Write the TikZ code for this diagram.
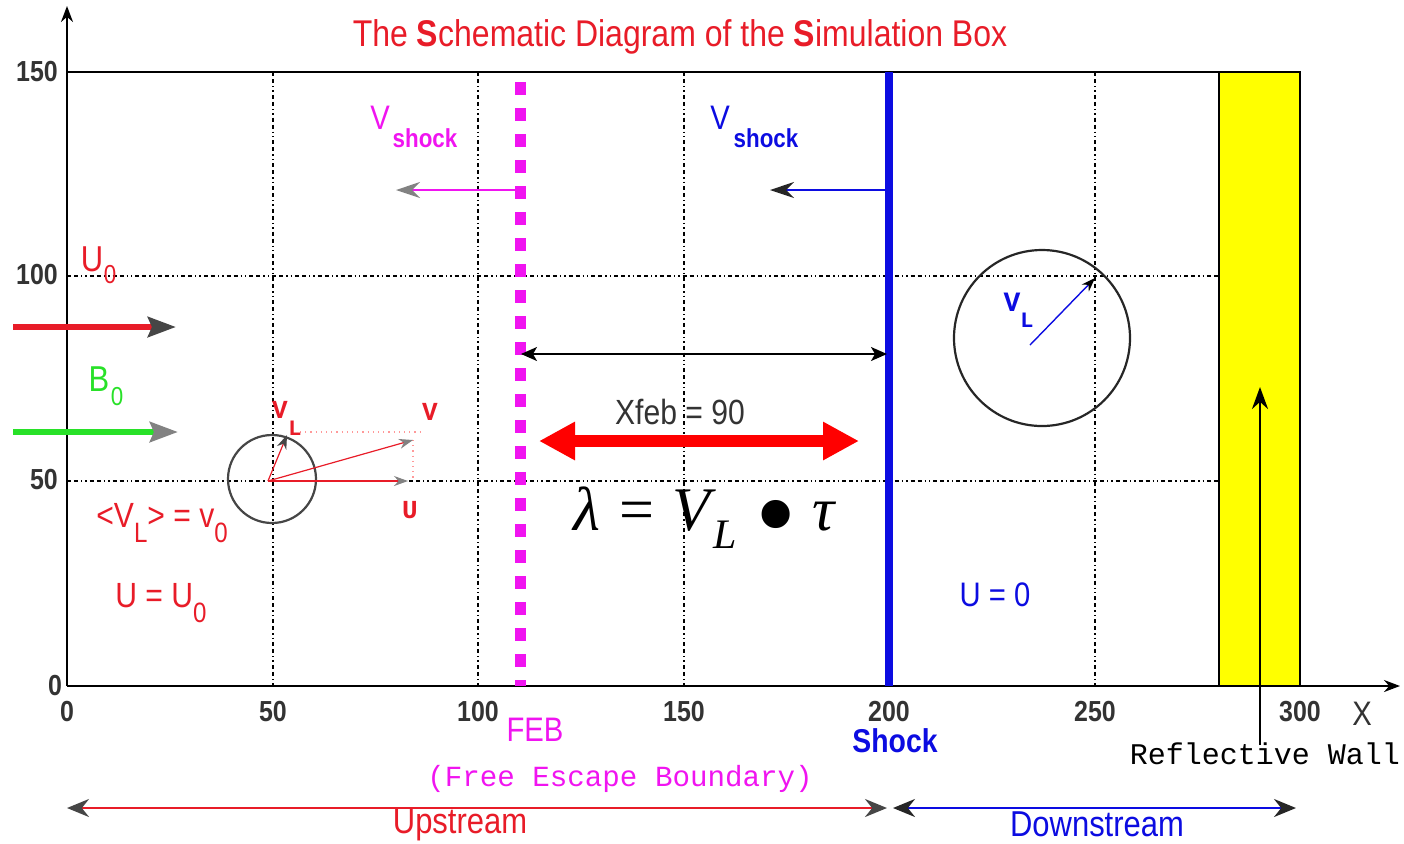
\documentclass[tikz,border=0pt]{standalone}
\usepackage{fontspec}
\setmainfont[FakeStretch=0.86]{Liberation Sans}
\setmonofont{Liberation Mono}
\newfontfamily\tmsfont{Liberation Serif}
\usetikzlibrary{arrows.meta}
\definecolor{tred}{RGB}{232,28,40}
\definecolor{mag}{RGB}{240,20,240}
\definecolor{sblue}{RGB}{12,12,225}
\definecolor{grn}{RGB}{40,225,40}
\definecolor{yel}{RGB}{255,255,0}
\definecolor{dgray}{RGB}{70,70,70}
\definecolor{mgray}{RGB}{130,130,130}
\newcommand\fs[1]{\fontsize{#1}{#1}\selectfont}
\newcommand\lsub[1]{\raisebox{-0.45em}{\scalebox{0.8}{#1}}}
\tikzset{
  axisline/.style={line width=1.1pt, black, -{Stealth[length=8pt,width=6pt]}},
  gridline/.style={line width=0.6pt, black, dash pattern=on 2pt off 1.5pt on 2pt off 1.5pt on 0.7pt off 1.5pt on 0.7pt off 1.5pt},
  ticklab/.style={font=\bfseries\fs{14.5}, text=black!80, inner sep=0pt},
  lab/.style={font=\fs{15}, inner sep=0pt},
  monolab/.style={font=\ttfamily\bfseries\fs{13}, inner sep=0pt},
  thinarrow/.style={line width=0.6pt},
}
\begin{document}
\begin{tikzpicture}[x=0.5pt,y=-0.5pt]
\path[use as bounding box] (0,0) rectangle (1404,843);

% title
\node[font=\fs{18.6}, text=tred, inner sep=0pt] (title) at (680,37) {The \textbf{S}chematic Diagram of the \textbf{S}imulation Box};

% coordinates of the frame
\coordinate (O) at (67,686);
\coordinate (ytop) at (67,6);
\coordinate (xend) at (1400,686);
\coordinate (tl) at (67,72);
\coordinate (tr) at (1300,72);

% grid
\foreach \gx in {273,478,684,1095} {\draw[gridline] (\gx,72) -- (\gx,686);}
\foreach \gy in {276,481} {\draw[gridline] (67,\gy) -- (1219,\gy);}

% reflective wall
\draw[fill=yel, draw=black, line width=0.8pt] (1219,72) rectangle (1300,686);
\coordinate (w1) at (1260,745);
\coordinate (w2) at (1260,387);
\draw[line width=1.3pt, -{Stealth[length=11pt,width=8pt]}] (w1) -- (w2);

% frame
\draw[line width=1.1pt] (tl) -- (tr);
\draw[axisline] (O) -- (ytop);
\draw[axisline] (O) -- (xend);

% FEB and shock lines
\coordinate (feb1) at (520,82);
\coordinate (feb2) at (520,686);
\draw[mag, line width=5.5pt, dash pattern=on 6.5pt off 6.5pt] (feb1) -- (feb2);
\coordinate (sh1) at (889,72);
\coordinate (sh2) at (889,686);
\draw[sblue, line width=4pt] (sh1) -- (sh2);

% tick labels
\node[ticklab] (y150) at (37,72) {150};
\node[ticklab] (y100) at (37,275) {100};
\node[ticklab] (y50) at (44,480) {50};
\node[ticklab] (y0) at (55,686) {0};
\node[ticklab] (x0) at (67,712) {0};
\node[ticklab] (x50) at (273,712) {50};
\node[ticklab] (x100) at (478,712) {100};
\node[ticklab] (x150) at (684,712) {150};
\node[ticklab] (x200) at (889,712) {200};
\node[ticklab] (x250) at (1095,712) {250};
\node[ticklab] (x300) at (1300,712) {300};
\node[ticklab, font=\fs{17}] (xl) at (1362,714) {X};

% V shock arrows
\coordinate (vs1a) at (517,190);
\coordinate (vs1b) at (396,190);
\draw[mag, line width=1pt, -{Stealth[length=12pt,width=8pt,color=mgray]}] (vs1a) -- (vs1b);
\node[lab, text=mag, font=\fs{17}] (vs1V) at (380,118) {V};
\node[lab, text=mag, font=\bfseries\fs{13}] (vs1s) at (425,138) {shock};
\coordinate (vs2a) at (886,190);
\coordinate (vs2b) at (770,190);
\draw[sblue, line width=1pt, -{Stealth[length=12pt,width=8pt,color=black!85]}] (vs2a) -- (vs2b);
\node[lab, text=sblue, font=\fs{17}] (vs2V) at (720,118) {V};
\node[lab, text=sblue, font=\bfseries\fs{13}] (vs2s) at (766,138) {shock};

% Xfeb distance
\coordinate (d1) at (521,354);
\coordinate (d2) at (887,354);
\draw[line width=0.8pt, {Stealth[length=8pt,width=7pt,inset=2pt]}-{Stealth[length=8pt,width=7pt,inset=2pt]}] (d1) -- (d2);
\node[lab, text=black!80, font=\fs{17.5}] (xfeb) at (680,412) {Xfeb = 90};
\coordinate (r1) at (539,441);
\coordinate (r2) at (859,441);
\draw[red, line width=6pt, {Triangle[length=18pt,width=18pt]}-{Triangle[length=18pt,width=18pt]}] (r1) -- (r2);
\node[inner sep=0pt, font=\tmsfont\fs{31}, anchor=base] (lam) at (705,530) {\textit{λ}\hspace{0.3em}=\hspace{0.3em}\textit{V}\hspace{-0.05em}\raisebox{-0.3em}{\fs{21}\textit{L}}\hspace{0.3em}\raisebox{-0.38em}{\scalebox{1.9}{•}}\hspace{0.25em}\textit{τ}};

% downstream circle
\coordinate (c2) at (1042,338);
\draw[line width=1.1pt, black!85] (c2) circle[radius=44pt];
\coordinate (b1) at (1030,345);
\coordinate (b2) at (1095,278);
\draw[sblue, line width=0.7pt, -{Stealth[length=7pt,width=5pt,color=black]}] (b1) -- (b2);
\node[monolab, text=sblue, font=\ttfamily\bfseries\fs{14}] (vlb) at (1012,302) {V};
\node[monolab, text=sblue, font=\ttfamily\bfseries\fs{11}] (vlbs) at (1027,320) {L};
\node[lab, text=sblue, font=\fs{17}] (u0r) at (995,595) {U = 0};

% upstream inflow
\node[lab, text=tred, font=\fs{18}] (U0) at (92,259) {U};
\node[lab, text=tred, font=\fs{13}] (U0s) at (110,275) {0};
\coordinate (ua) at (13,327);
\coordinate (ub) at (176,327);
\draw[tred, line width=3pt, -{Stealth[length=14pt,width=10pt,inset=2pt,color=dgray]}] (ua) -- (ub);
\node[lab, text=grn, font=\fs{18}] (B0) at (99,379) {B};
\node[lab, text=grn, font=\fs{13}] (B0s) at (117,397) {0};
\coordinate (ga) at (13,432);
\coordinate (gb) at (178,432);
\draw[grn, line width=3pt, -{Stealth[length=14pt,width=10pt,inset=2pt,color=mgray]}] (ga) -- (gb);

% upstream particle
\coordinate (c1) at (272,479);
\draw[line width=1.1pt, dgray] (c1) circle[radius=22pt];
\coordinate (p) at (268,481);
\coordinate (pu) at (408,481);
\coordinate (pv) at (413,440);
\coordinate (pl) at (287,435);
\coordinate (dA) at (300,432);
\coordinate (dB) at (423,432);
\coordinate (dC) at (413,440);
\coordinate (dD) at (413,478);
\draw[red!40, line width=0.6pt, dotted] (dA) -- (dB);
\draw[red!40, line width=0.6pt, dotted] (dC) -- (dD);
\draw[tred, thinarrow, -{Stealth[length=7pt,width=5pt,color=mgray]}] (p) -- (pu);
\draw[tred, thinarrow, -{Stealth[length=7pt,width=5pt,color=mgray]}] (p) -- (pv);
\draw[tred, thinarrow, -{Stealth[length=7pt,width=5pt,color=dgray]}] (p) -- (pl);
\node[monolab, text=tred] (lv1) at (280,410) {V};
\node[monolab, text=tred, font=\ttfamily\bfseries\fs{11}] (lv1s) at (295,428) {L};
\node[monolab, text=tred] (lv2) at (430,412) {V};
\node[monolab, text=tred] (lu) at (410,510) {U};
\node[lab, text=tred, anchor=west, font=\fs{17.5}] (avg) at (96,523) {<V\lsub{L}> = v\lsub{0}};
\node[lab, text=tred, anchor=west, font=\fs{17.5}] (ueq) at (115,603) {U = U\lsub{0}};

% bottom labels
\node[lab, text=mag, font=\fs{17}] (feb) at (535,730) {FEB};
\node[lab, text=sblue, font=\bfseries\fs{16.5}] (shock) at (895,741) {Shock};
\node[lab, text=mag, font=\ttfamily\fs{14.6}] (feb2t) at (620,779) {(Free Escape Boundary)};
\node[lab, text=black, font=\ttfamily\fs{15}] (rw) at (1265,754) {Reflective Wall};

% upstream / downstream
\coordinate (us1) at (67,808);
\coordinate (us2) at (887,808);
\draw[tred, line width=1.2pt, {Stealth[length=11pt,width=9pt,color=dgray]}-{Stealth[length=11pt,width=9pt,color=dgray]}] (us1) -- (us2);
\node[lab, text=tred, font=\fs{18}] (ups) at (460,825) {Upstream};
\coordinate (ds1) at (893,808);
\coordinate (ds2) at (1296,808);
\draw[sblue, line width=1.2pt, {Stealth[length=11pt,width=9pt,color=black!85]}-{Stealth[length=11pt,width=9pt,color=black!85]}] (ds1) -- (ds2);
\node[lab, text=sblue, font=\fs{18}] (dns) at (1097,824) {Downstream};
\end{tikzpicture}
\end{document}
